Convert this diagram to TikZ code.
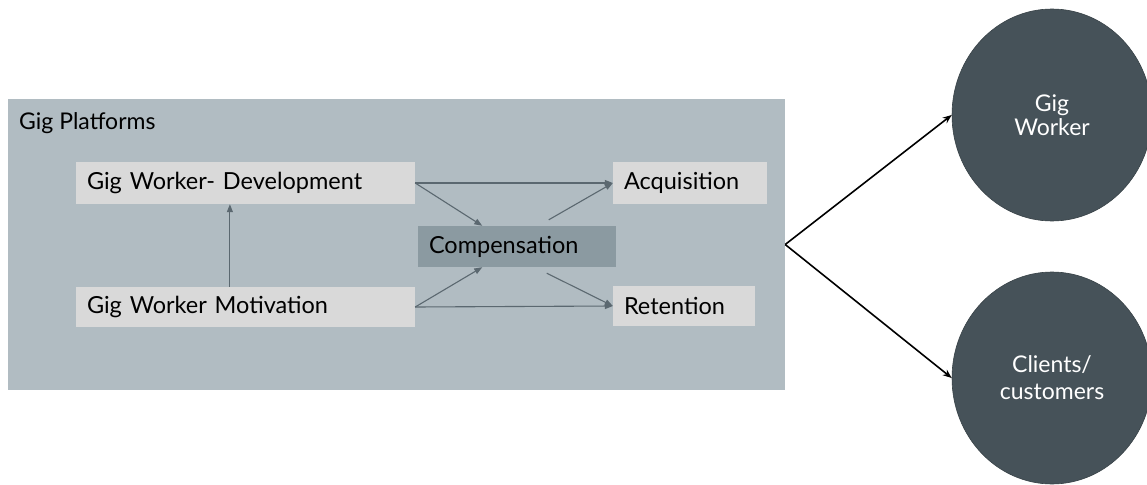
\documentclass[tikz,border=0pt]{standalone}
\usepackage{fontspec}
\setmainfont{Lato}
\usetikzlibrary{arrows.meta,calc,shapes.geometric}
\definecolor{platform}{HTML}{B1BCC2}
\definecolor{lightbox}{HTML}{D9D9D9}
\definecolor{midbox}{HTML}{8B9AA1}
\definecolor{actor}{HTML}{465259}
\definecolor{flow}{HTML}{5B6870}
\tikzset{
  factor/.style={fill=lightbox, inner xsep=11pt, inner ysep=0pt, align=left,
    minimum height=41pt, font=\fontsize{23.5}{28}\selectfont, text=black},
  flowarrow/.style={draw=flow, line width=1.1pt, -{Triangle[length=8pt,width=6pt]}},
  actornode/.style={ellipse, fill=actor, draw=actor!80!black, line width=0.6pt, text=white,
    minimum width=200pt, minimum height=212pt, align=center, font=\fontsize{23}{27}\selectfont},
  linkarrow/.style={draw=black, line width=1.6pt, -{Stealth[length=9pt,width=7pt]}}
}
\begin{document}
\begin{tikzpicture}[x=1pt,y=-1pt]
  \useasboundingbox (0,0) rectangle (1147,484);

  % platform area
  \node[fill=platform, minimum width=777pt, minimum height=291pt, inner sep=0pt] (plat) at (396.5,244.5) {};
  \node[anchor=base west, font=\fontsize{23}{27}\selectfont, inner sep=0pt] (platlabel) at (19,129.5) {Gig Platforms};

  % factors inside the platform
  \node[factor, text width=317pt, minimum height=42pt] (dev) at (245.5,183) {Gig Worker- Development};
  \node[factor, text width=317pt, minimum height=40pt] (mot) at (245.5,307) {Gig Worker Motivation};
  \node[factor, fill=midbox, text width=176pt] (comp) at (517,246.5) {Compensation};
  \node[factor, text width=132pt, minimum height=42pt] (acq) at (690,183) {Acquisition};
  \node[factor, text width=120pt, minimum height=40pt] (ret) at (684,306) {Retention};

  % arrows among the factors
  \draw[flowarrow] ($(mot.north west)!0.454!(mot.north east)$) -- ($(dev.south west)!0.454!(dev.south east)$);
  \draw[flowarrow] (dev.east) -- (acq.west);
  \draw[flowarrow] (mot.east) -- (ret.west);
  \draw[flowarrow] (dev.east) -- ($(comp.north west)!0.325!(comp.north east)$);
  \draw[flowarrow] (mot.east) -- ($(comp.south west)!0.325!(comp.south east)$);
  \draw[flowarrow] ($(comp.north west)!0.66!(comp.north east)+(0,-6)$) -- (acq.west);
  \draw[flowarrow] ($(comp.south west)!0.65!(comp.south east)+(0,6)$) -- (ret.west);

  % stakeholders
  \node[actornode] (gw) at (1052,115) {Gig\\[-3pt]Worker};
  \node[actornode] (cc) at (1052,378) {Clients/\\[0pt]customers};

  \draw[linkarrow] (plat.east) -- (gw.west);
  \draw[linkarrow] (plat.east) -- (cc.west);
\end{tikzpicture}
\end{document}
